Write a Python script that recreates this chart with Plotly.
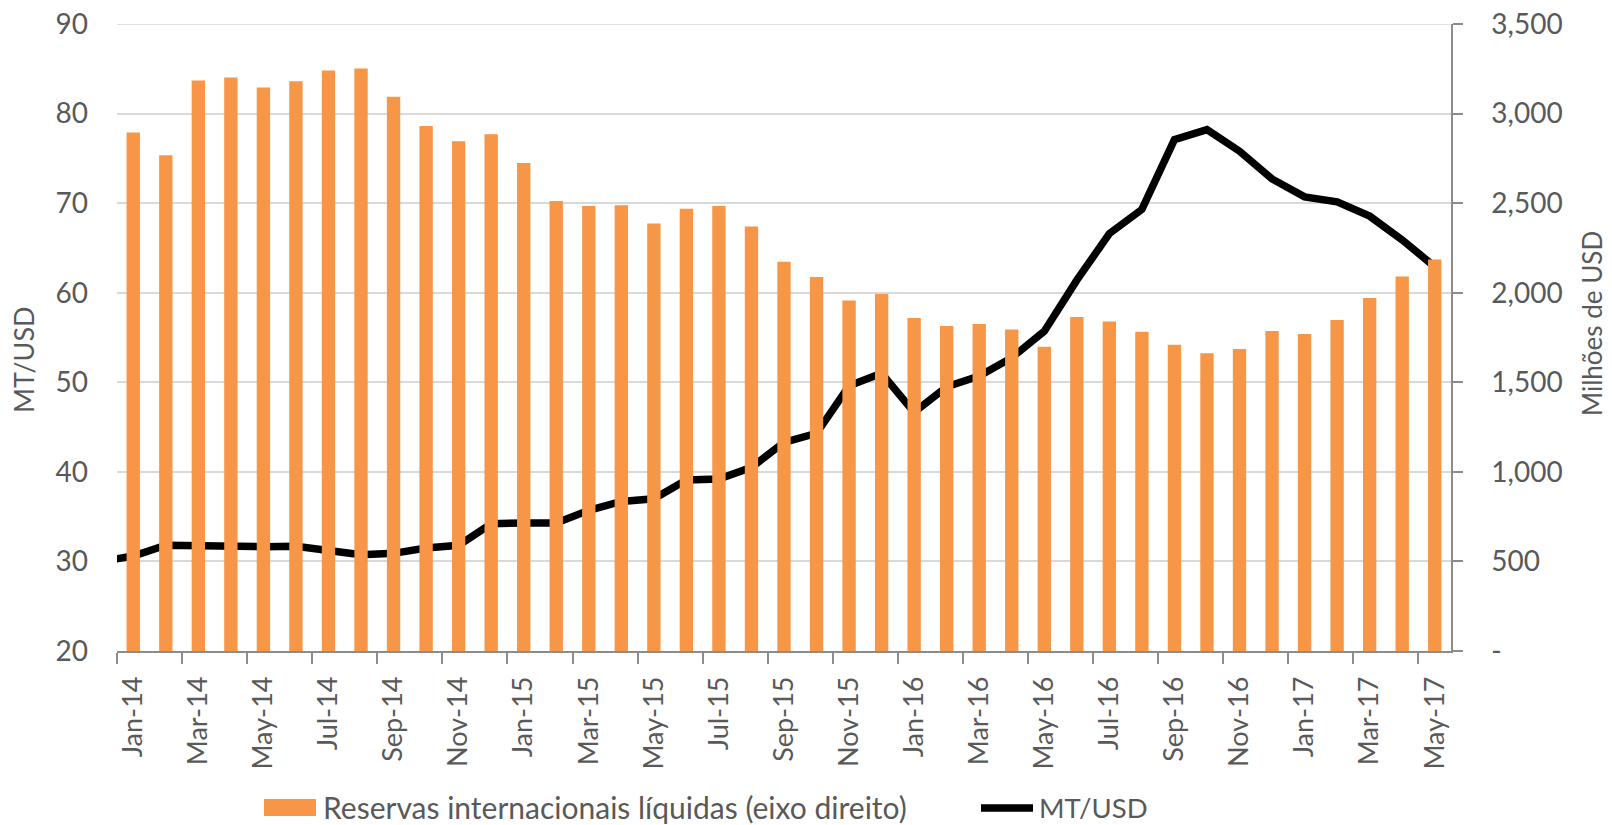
import plotly.graph_objects as go

# ---------------- data ----------------
months = ["Jan-14", "Feb-14", "Mar-14", "Apr-14", "May-14", "Jun-14", "Jul-14", "Aug-14",
          "Sep-14", "Oct-14", "Nov-14", "Dec-14", "Jan-15", "Feb-15", "Mar-15", "Apr-15",
          "May-15", "Jun-15", "Jul-15", "Aug-15", "Sep-15", "Oct-15", "Nov-15", "Dec-15",
          "Jan-16", "Feb-16", "Mar-16", "Apr-16", "May-16", "Jun-16", "Jul-16", "Aug-16",
          "Sep-16", "Oct-16", "Nov-16", "Dec-16", "Jan-17", "Feb-17", "Mar-17", "Apr-17",
          "May-17"]

# Reservas internacionais líquidas (milhões de USD, eixo direito)
reserves = [2895, 2767, 3185, 3202, 3146, 3180, 3240, 3251, 3094, 2931, 2845, 2884,
            2724, 2512, 2484, 2488, 2387, 2469, 2484, 2369, 2173, 2088, 1957, 1993,
            1859, 1814, 1825, 1794, 1699, 1864, 1840, 1782, 1710, 1662, 1686, 1786,
            1769, 1848, 1970, 2090, 2186]

# MT/USD (eixo esquerdo); series starts one month before the visible range
line_months = ["Dec-13"] + months
mt_usd = [30.0, 30.6, 31.8, 31.7, 31.6, 31.65, 31.7, 31.26, 30.74, 30.9, 31.5, 31.8, 34.2,
          34.3, 34.3, 35.7, 36.7, 37.0, 39.1, 39.2, 40.5, 43.3, 44.3, 49.6, 51.0,
          46.65, 49.5, 50.7, 52.75, 55.7, 61.4, 66.6, 69.3, 77.1, 78.2, 75.8, 72.7,
          70.7, 70.15, 68.55, 65.9, 62.9]

left_ticks = [20, 30, 40, 50, 60, 70, 80, 90]
right_ticks = [0, 500, 1000, 1500, 2000, 2500, 3000, 3500]
right_ticktext = ["-", "500", "1,000", "1,500", "2,000", "2,500", "3,000", "3,500"]

bar_name = "Reservas internacionais líquidas (eixo direito)"
line_name = "MT/USD"

# ---------------- styling ----------------
FONT = "Lato"
TXT = "#595959"
ORANGE = "#F79646"
GRID = "#d9d9d9"
AXIS = "#8c8c8c"

x_bar = [months.index(m) for m in months]
x_line = [line_months.index(m) - 1 for m in line_months]

label_vals = x_bar[::2]
label_text = months[::2]
boundary_ticks = [v - 0.5 for v in label_vals]

fig = go.Figure()
fig.add_trace(go.Bar(
    x=x_bar, y=reserves, name=bar_name, yaxis="y2",
    marker=dict(color=ORANGE, line=dict(width=0)), width=0.41,
    showlegend=False,
))
fig.add_trace(go.Scatter(
    x=x_line, y=mt_usd, name=line_name, mode="lines",
    line=dict(color="black", width=7.5), showlegend=False,
))

# figure fills the whole page (body margin removed below)
W, H = 1612, 825
PL, PR, PT, PB = 117, 1451, 24, 651          # plot area in page pixels
L, T = PL, PT
R, B = W - PR, H - PB
plot_w = W - L - R
plot_h = H - T - B


def px_x(px):
    return (px - L) / plot_w


def px_y(py):
    return (H - B - py) / plot_h


fig.update_layout(
    width=W, height=H,
    margin=dict(l=L, r=R, t=T, b=B, pad=0, autoexpand=False),
    paper_bgcolor="white", plot_bgcolor="white",
    font=dict(family=FONT, color=TXT, size=28),
    xaxis=dict(
        range=[-0.5, len(months) - 0.5], automargin=False,
        tickmode="array", tickvals=label_vals, ticktext=label_text,
        tickangle=-90, ticks="", ticklabelstandoff=13,
        tickfont=dict(size=27, color=TXT),
        showline=True, linecolor=AXIS, linewidth=1.5,
        showgrid=False, zeroline=False,
        minor=dict(tickmode="array", tickvals=boundary_ticks, ticks="outside",
                   ticklen=11, tickcolor=AXIS, tickwidth=1.5, showgrid=False),
        fixedrange=True,
    ),
    yaxis=dict(
        range=[20, 90], tickmode="array", tickvals=left_ticks, automargin=False,
        ticks="", ticklabelstandoff=28, ticklabeloverflow="allow",
        tickfont=dict(size=28, color=TXT),
        showgrid=True, gridcolor=GRID, gridwidth=1.5,
        showline=False, zeroline=False,
    ),
    yaxis2=dict(
        range=[0, 3500], overlaying="y", side="right", automargin=False,
        tickmode="array", tickvals=right_ticks, ticktext=right_ticktext,
        ticks="outside", ticklen=10, tickcolor=AXIS, tickwidth=1.5,
        ticklabelstandoff=23, ticklabeloverflow="allow",
        tickfont=dict(size=28, color=TXT),
        showgrid=False, showline=True, linecolor=AXIS, linewidth=1.5,
        zeroline=False,
    ),
    annotations=[
        dict(text="MT/USD", xref="paper", yref="paper",
             x=px_x(23), y=px_y(360), textangle=-90, showarrow=False,
             xanchor="center", yanchor="middle", font=dict(size=27, color=TXT)),
        dict(text="Milhões de USD", xref="paper", yref="paper",
             x=px_x(1592), y=px_y(324), textangle=-90, showarrow=False,
             xanchor="center", yanchor="middle", font=dict(size=26, color=TXT)),
        dict(text=bar_name, xref="paper", yref="paper",
             x=px_x(321), y=px_y(807), showarrow=False,
             xanchor="left", yanchor="middle", font=dict(size=30, color=TXT)),
        dict(text=line_name, xref="paper", yref="paper",
             x=px_x(1037), y=px_y(807), showarrow=False,
             xanchor="left", yanchor="middle", font=dict(size=27.5, color=TXT)),
    ],
    shapes=[
        # top gridline (at the upper end of the left axis range)
        dict(type="line", xref="paper", yref="y", layer="below",
             x0=0, x1=1, y0=left_ticks[-1], y1=left_ticks[-1],
             line=dict(color=GRID, width=1.5)),
        dict(type="rect", xref="paper", yref="paper",
             x0=px_x(264), x1=px_x(316), y0=px_y(816), y1=px_y(799),
             fillcolor=ORANGE, line=dict(width=0)),
        dict(type="line", xref="paper", yref="paper",
             x0=px_x(981), x1=px_x(1033), y0=px_y(808), y1=px_y(808),
             line=dict(color="black", width=7.5)),
    ],
)

fig.write_html("out.html",
               config={"displayModeBar": False},
               post_script="document.body.style.margin='0';"
                           "document.body.style.overflow='hidden';")
